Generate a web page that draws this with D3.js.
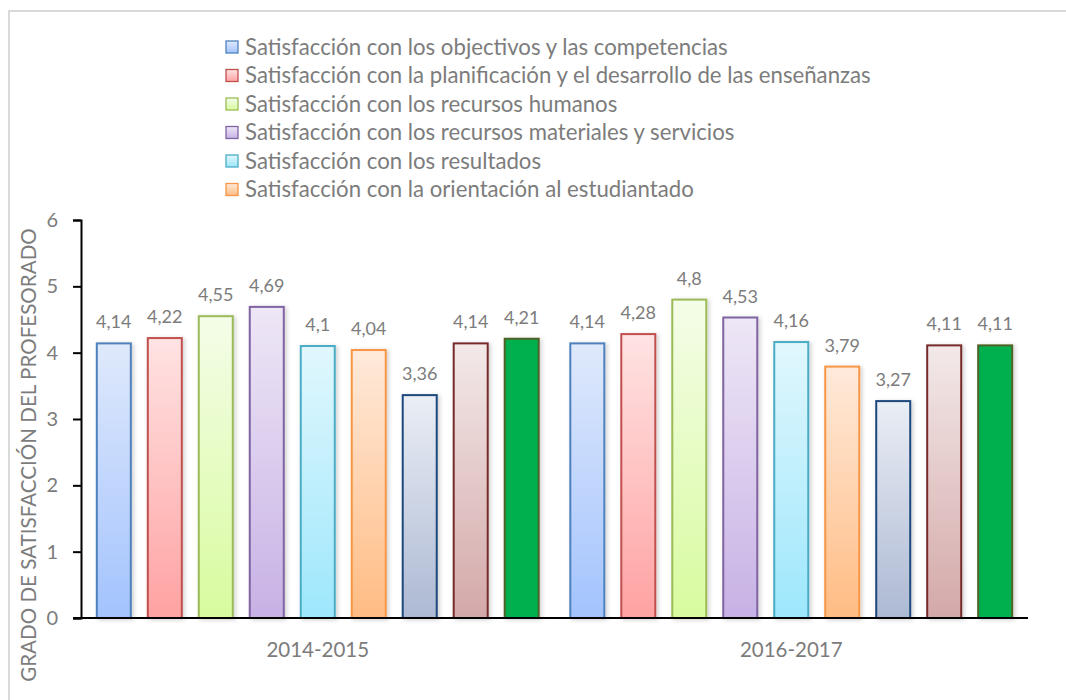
<!DOCTYPE html>
<html><head><meta charset="utf-8">
<script src="https://cdn.jsdelivr.net/npm/d3@7"></script>
<style>
html,body{margin:0;padding:0;background:#fff;}
svg{display:block;font-family:Lato, "Open Sans", sans-serif;}
</style></head>
<body><svg id="c" width="1066" height="700"></svg>
<script>
const groups = ["2014-2015", "2016-2017"];
const seriesNames = [
  "Satisfacción con los objectivos y las competencias",
  "Satisfacción con la planificación y el desarrollo de las enseñanzas",
  "Satisfacción con los recursos humanos",
  "Satisfacción con los recursos materiales y servicios",
  "Satisfacción con los resultados",
  "Satisfacción con la orientación al estudiantado",
  "Serie 7",
  "Serie 8",
  "Serie 9"
];
const legendCount = 6;
const values2014 = [4.14, 4.22, 4.55, 4.69, 4.1, 4.04, 3.36, 4.14, 4.21];
const values2016 = [4.14, 4.28, 4.8, 4.53, 4.16, 3.79, 3.27, 4.11, 4.11];
const yTicks = [0, 1, 2, 3, 4, 5, 6];
const strokeColors = ["#4f81bd","#c0504d","#9bbb59","#8064a2","#4bacc6","#f79646","#1f497d","#772c2a","#4f6228"];
const topColors    = ["#dfe9fb","#ffe3e3","#f4fde8","#eee7f6","#e1f7fd","#ffeadb","#eaeef5","#f3e9e9","#00b050"];
const bottomColors = ["#a3c3fe","#ffa2a2","#d8fb9e","#c7b1e5","#9de7fc","#ffbc83","#adb9d3","#d4a8a8","#00b050"];

const valuesByGroup = [values2014, values2016];
const svg = d3.select("#c");
const defs = svg.append("defs");
seriesNames.forEach((s,i)=>{
  const g = defs.append("linearGradient").attr("id","g"+i).attr("x1",0).attr("y1",0).attr("x2",0).attr("y2",1);
  g.append("stop").attr("offset","0%").attr("stop-color",topColors[i]);
  g.append("stop").attr("offset","100%").attr("stop-color",bottomColors[i]);
});
const f = defs.append("filter").attr("id","sh").attr("x","-20%").attr("y","-5%").attr("width","150%").attr("height","115%");
f.append("feDropShadow").attr("dx",2).attr("dy",1).attr("stdDeviation",2).attr("flood-color","#000").attr("flood-opacity",0.18);

// outer border
svg.append("path").attr("d","M9,700 L9,11 L1066,11").attr("fill","none").attr("stroke","#d9d9d9").attr("stroke-width",2);

const pLeft = 81, pRight = 1028, pTop = 220, pBottom = 618;
const y = d3.scaleLinear().domain([0,6]).range([pBottom, pTop]);
const x0 = d3.scaleBand().domain(groups).range([pLeft,pRight]).padding(0);
const x1 = d3.scaleBand().domain(d3.range(seriesNames.length)).range([0,x0.bandwidth()]).paddingInner(0.333).paddingOuter(0.31);

const textCol = "#7c7c7c";

// bars
const gg = svg.append("g").selectAll("g").data(groups).join("g")
  .attr("transform", d=>`translate(${x0(d)},0)`);
gg.each(function(gname, gi){
  const sel = d3.select(this);
  const data = valuesByGroup[gi].map((v,i)=>({v,i}));
  sel.selectAll("rect").data(data).join("rect")
    .attr("x", d=>x1(d.i)).attr("width", x1.bandwidth())
    .attr("y", d=>y(d.v)).attr("height", d=>y(0)-y(d.v))
    .attr("fill", d=>`url(#g${d.i})`).attr("stroke", d=>strokeColors[d.i]).attr("stroke-width",2)
    .attr("filter","url(#sh)");
  sel.selectAll("text").data(data).join("text")
    .attr("x", d=>x1(d.i)+x1.bandwidth()/2).attr("y", d=>y(d.v)-15)
    .attr("text-anchor","middle").attr("font-size",18).attr("fill",textCol)
    .text(d=>String(d.v).replace(".",","));
});

// axes
const yAxis = d3.axisLeft(y).tickValues(yTicks).tickFormat(d3.format("d")).tickSize(8).tickSizeOuter(8).tickPadding(15);
const ya = svg.append("g").attr("transform",`translate(${pLeft},0)`).call(yAxis);
ya.select(".domain").attr("stroke","#000").attr("stroke-width",2);
ya.selectAll(".tick line").attr("stroke","#000").attr("stroke-width",2);
ya.selectAll(".tick text").attr("font-size",20).attr("fill",textCol).attr("font-family","Lato, sans-serif");

const xAxis = d3.axisBottom(x0).tickSize(0).tickPadding(24);
const xa = svg.append("g").attr("transform",`translate(0,${pBottom})`).call(xAxis);
xa.select(".domain").attr("stroke","#000").attr("stroke-width",2).attr("d",`M${pLeft-8},0H${pRight}`);
xa.selectAll(".tick text").attr("font-size",20.5).attr("fill",textCol).attr("font-family","Lato, sans-serif");

// y title
svg.append("text").attr("transform","translate(36,455) rotate(-90)").attr("text-anchor","middle")
  .attr("font-size",20.6).attr("fill",textCol).text("GRADO DE SATISFACCIÓN DEL PROFESORADO");

// legend
const lg = svg.append("g").attr("transform","translate(226,47)");
const items = lg.selectAll("g").data(seriesNames.slice(0,legendCount)).join("g")
  .attr("transform",(d,i)=>`translate(0,${i*28.5})`);
items.append("rect").attr("x",0).attr("y",-6).attr("width",12).attr("height",12)
  .attr("fill",(d,i)=>`url(#g${i})`).attr("stroke",(d,i)=>strokeColors[i]).attr("stroke-width",1.3);
items.append("text").attr("x",19).attr("y",0).attr("dy","0.35em").attr("font-size",22.2).attr("fill",textCol).text(d=>d);
</script></body></html>
